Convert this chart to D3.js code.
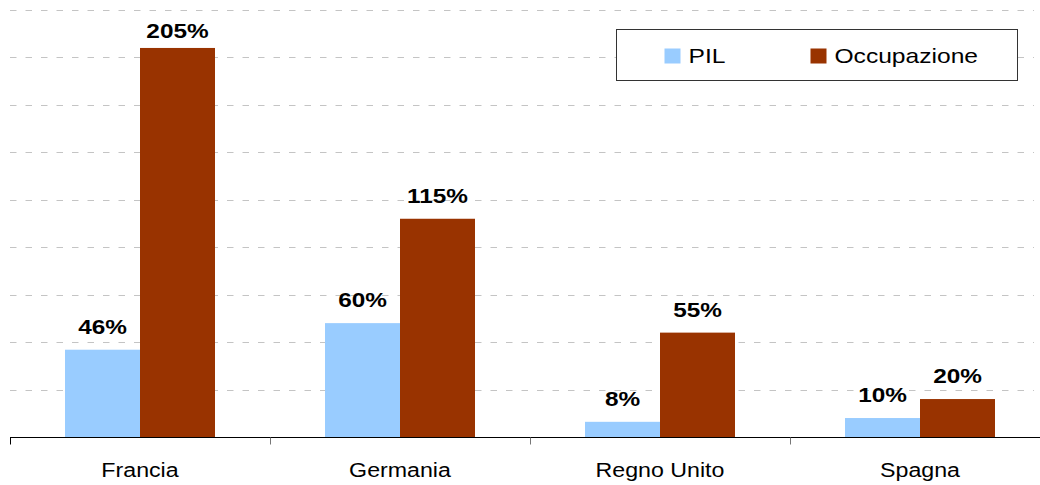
<!DOCTYPE html>
<html>
<head>
<meta charset="utf-8">
<script src="https://cdn.jsdelivr.net/npm/d3@7"></script>
<style>
  body { margin: 0; background: #fff; }
  svg { display: block; font-family: "Liberation Sans", Arial, sans-serif; }
  .grid line { stroke: #c4c4c4; stroke-width: 1; stroke-dasharray: 6.5 9; }
</style>
</head>
<body>
<div class="chart"></div>
<script>
// Data
const countries = ["Francia", "Germania", "Regno Unito", "Spagna"];
const pil = [46, 60, 8, 10];
const occupazione = [205, 115, 55, 20];
const seriesNames = ["PIL", "Occupazione"];
const seriesColors = ["#99ccff", "#993300"];
const gridTicks = [25, 50, 75, 100, 125, 150, 175, 200, 225];

const width = 1040, height = 485;
const margin = {top: 10, bottom: 48, left: 10};
const stretch = 1.16; // text in the reference is a bit wide

const svg = d3.select(".chart").append("svg")
  .attr("width", width)
  .attr("height", height);

// Scales
const x = d3.scaleBand().domain(countries).range([margin.left, margin.left + 260 * countries.length]);
const xInner = d3.scaleBand().domain(seriesNames).range([55, 205]);
const y = d3.scaleLinear().domain([0, 225]).range([height - margin.bottom, margin.top]);

// Gridlines
svg.append("g").attr("class", "grid")
  .selectAll("line").data(gridTicks).join("line")
  .attr("x1", margin.left).attr("x2", 1034)
  .attr("y1", d => Math.round(y(d)) + 0.5)
  .attr("y2", d => Math.round(y(d)) + 0.5);

// Bars
const rows = countries.map((c, i) => ({country: c, values: [pil[i], occupazione[i]]}));
const groups = svg.selectAll(".group").data(rows).join("g")
  .attr("class", "group")
  .attr("transform", d => `translate(${x(d.country)},0)`);

groups.selectAll("rect")
  .data(d => d.values.map((v, j) => ({name: seriesNames[j], value: v, color: seriesColors[j]})))
  .join("rect")
  .attr("x", d => xInner(d.name))
  .attr("width", xInner.bandwidth())
  .attr("y", d => y(d.value))
  .attr("height", d => y(0) - y(d.value))
  .attr("fill", d => d.color);

// Value labels
groups.selectAll("text.val")
  .data(d => d.values.map((v, j) => ({name: seriesNames[j], value: v})))
  .join("text")
  .attr("class", "val")
  .attr("transform", d => `translate(${xInner(d.name) + xInner.bandwidth() / 2},${Math.max(y(d.value) - 16, 38)}) scale(${stretch},1)`)
  .attr("text-anchor", "middle")
  .attr("font-size", 21)
  .attr("font-weight", "bold")
  .attr("fill", "#000")
  .text(d => d.value + "%");

// X axis
const axisY = Math.round(y(0)) + 0.5;
svg.append("line")
  .attr("x1", margin.left).attr("x2", width)
  .attr("y1", axisY).attr("y2", axisY)
  .attr("stroke", "#000");
svg.selectAll(".tick").data(countries).join("line")
  .attr("class", "tick")
  .attr("x1", d => Math.round(x(d)) + 0.5).attr("x2", d => Math.round(x(d)) + 0.5)
  .attr("y1", axisY).attr("y2", axisY + 7)
  .attr("stroke", (d, i) => i === 0 ? "#000" : "#777");
svg.selectAll(".cat").data(countries).join("text")
  .attr("class", "cat")
  .attr("transform", d => `translate(${x(d) + x.bandwidth() / 2},477) scale(${stretch},1)`)
  .attr("text-anchor", "middle")
  .attr("font-size", 20)
  .attr("fill", "#000")
  .text(d => d);

// Legend
const legend = svg.append("g").attr("transform", "translate(616.5,29.5)");
legend.append("rect")
  .attr("width", 401).attr("height", 51)
  .attr("fill", "#fff").attr("stroke", "#333");
const legendX = [48, 194];
const items = legend.selectAll(".item").data(seriesNames).join("g")
  .attr("class", "item")
  .attr("transform", (d, i) => `translate(${legendX[i]},0)`);
items.append("rect")
  .attr("y", 19).attr("width", 16).attr("height", 15)
  .attr("fill", (d, i) => seriesColors[i]);
items.append("text")
  .attr("transform", `translate(24,33) scale(1.2,1)`)
  .attr("font-size", 20.5)
  .attr("fill", "#000")
  .text(d => d);
</script>
</body>
</html>
